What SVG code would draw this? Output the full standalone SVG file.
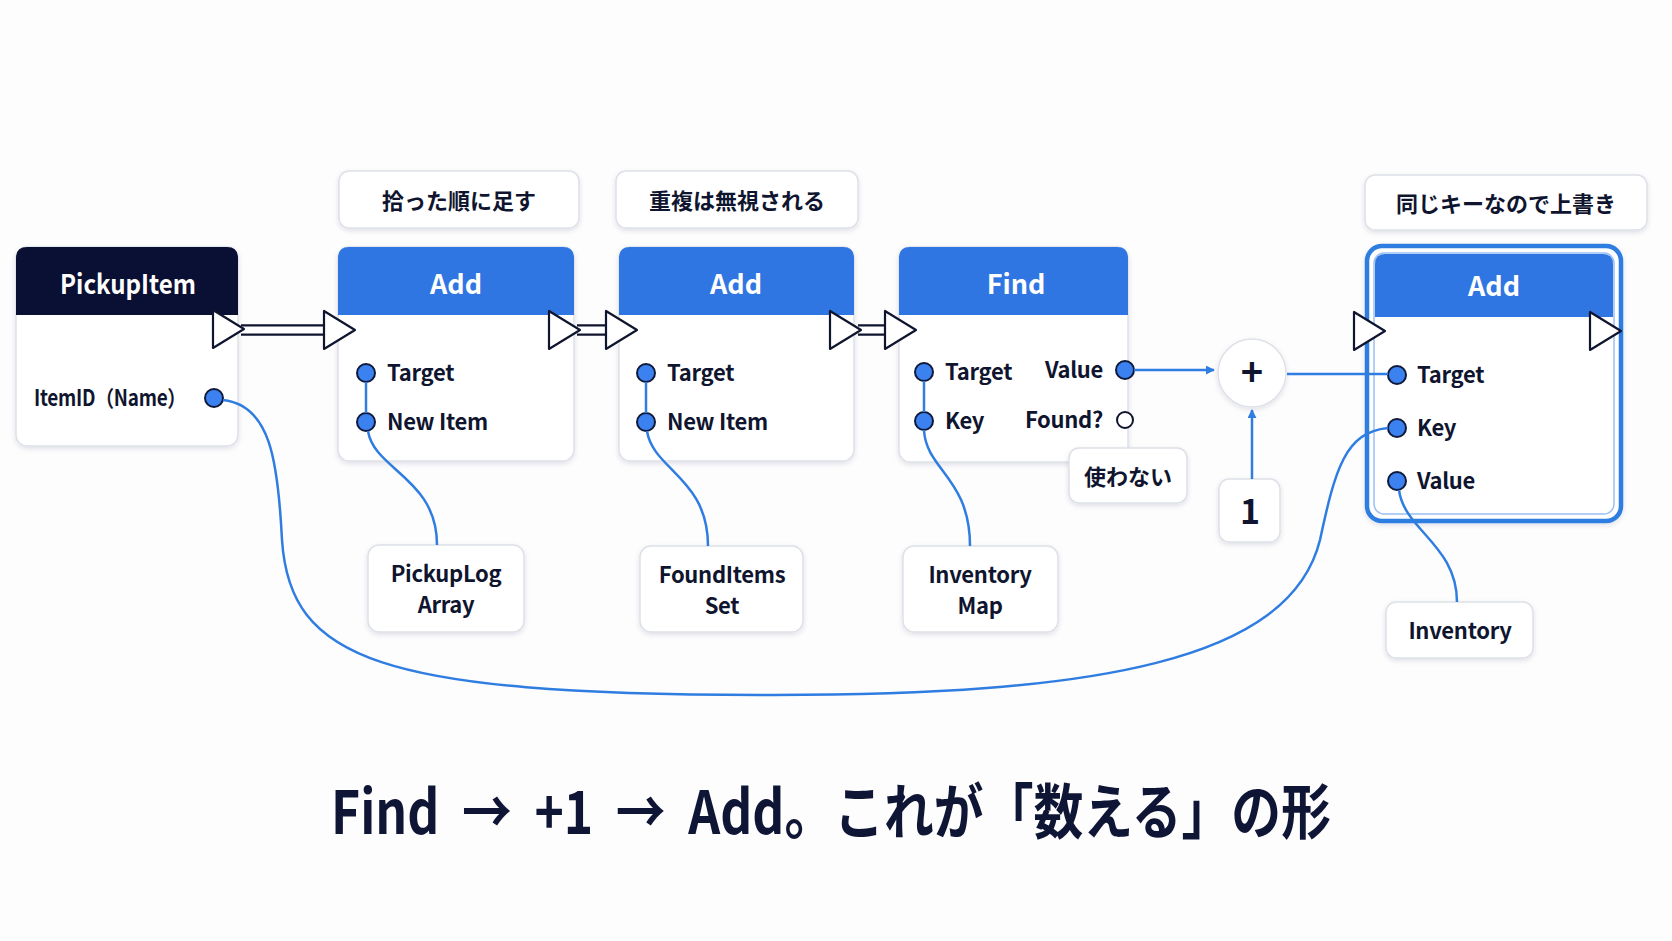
<svg xmlns="http://www.w3.org/2000/svg" width="1672" height="941" viewBox="0 0 1672 941">
<defs>
<filter id="sh" x="-10%" y="-10%" width="120%" height="130%">
<feDropShadow dx="0" dy="2" stdDeviation="2.5" flood-color="#1a2340" flood-opacity="0.12"/>
</filter>
<marker id="ah" viewBox="0 0 10 10" refX="9" refY="5" markerWidth="9" markerHeight="9" markerUnits="userSpaceOnUse" orient="auto">
<path d="M0 0 L10 5 L0 10 Z" fill="#2f7de1"/>
</marker>
<path id="tri" d="M0 -19 L0 19 L31 0 Z"/>
</defs>
<style>
text{font-family:"Noto Sans CJK JP","Noto Sans",sans-serif;fill:#10152f}
.title{font-size:27px;font-weight:700;fill:#fff;text-anchor:middle}
.lbl{font-size:22px;font-weight:700;letter-spacing:-0.3px}
.cmt{font-size:22px;font-weight:700;text-anchor:middle}
.big{font-size:60px;font-weight:700;fill:#0f1535}
.body{fill:#fff;stroke:#dde1e7;stroke-width:1.5}
.hdr{fill:#2f76e2}
.port{fill:#3b82f0;stroke:#0f1a3a;stroke-width:2}
.wire{fill:none;stroke:#2f7de1;stroke-width:2.5}
.tri{fill:#fff;stroke:#10152f;stroke-width:2.2;stroke-linejoin:round}
.box{fill:#fff;stroke:#dde1e7;stroke-width:1.5}
.exo{fill:none;stroke:#10152f;stroke-width:11.5}
.exi{fill:none;stroke:#fff;stroke-width:7}
</style>
<rect width="1672" height="941" fill="#fdfdfe"/>

<g id="comment1"><rect class="box" x="339" y="171" width="240" height="57" rx="10" filter="url(#sh)"/><text class="cmt" x="459" y="209">拾った順に足す</text></g>
<g id="comment2"><rect class="box" x="616" y="171" width="242" height="57" rx="10" filter="url(#sh)"/><text class="cmt" x="737" y="209">重複は無視される</text></g>
<g id="comment3"><rect class="box" x="1365" y="175" width="282" height="55" rx="10" filter="url(#sh)"/><text class="cmt" x="1506" y="212">同じキーなので上書き</text></g>

<g id="pickupitem">
<rect class="body" x="16" y="247" width="222" height="199" rx="11" filter="url(#sh)"/>
<path d="M16 315 V258 Q16 247 27 247 H227 Q238 247 238 258 V315 Z" fill="#0a1033"/>
<text class="title" x="128" y="294" textLength="136" lengthAdjust="spacingAndGlyphs">PickupItem</text>
<text class="lbl" x="34" y="406" font-size="21" textLength="152" lengthAdjust="spacingAndGlyphs">ItemID（Name）</text>
<circle class="port" cx="214" cy="398" r="9"/>
</g>

<g id="add1">
<rect class="body" x="338" y="247" width="236" height="214" rx="11" filter="url(#sh)"/>
<path class="hdr" d="M338 315 V258 Q338 247 349 247 H563 Q574 247 574 258 V315 Z"/>
<text class="title" x="456" y="294">Add</text>
<circle class="port" cx="366" cy="373" r="9"/><text class="lbl" x="387" y="381">Target</text>
<circle class="port" cx="366" cy="422" r="9"/><text class="lbl" x="387" y="430">New Item</text>
</g>

<g id="add2">
<rect class="body" x="619" y="247" width="235" height="214" rx="11" filter="url(#sh)"/>
<path class="hdr" d="M619 315 V258 Q619 247 630 247 H843 Q854 247 854 258 V315 Z"/>
<text class="title" x="736" y="294">Add</text>
<circle class="port" cx="646" cy="373" r="9"/><text class="lbl" x="667" y="381">Target</text>
<circle class="port" cx="646" cy="422" r="9"/><text class="lbl" x="667" y="430">New Item</text>
</g>

<g id="find">
<rect class="body" x="899" y="247" width="229" height="215" rx="11" filter="url(#sh)"/>
<path class="hdr" d="M899 315 V258 Q899 247 910 247 H1117 Q1128 247 1128 258 V315 Z"/>
<text class="title" x="1016" y="294">Find</text>
<circle class="port" cx="924" cy="372" r="9"/><text class="lbl" x="945" y="380">Target</text>
<circle class="port" cx="924" cy="421" r="9"/><text class="lbl" x="945" y="429">Key</text>
<text class="lbl" x="1103" y="378" text-anchor="end" font-size="21">Value</text>
<circle class="port" cx="1125" cy="370" r="9"/>
<text class="lbl" x="1103" y="428" text-anchor="end" font-size="21">Found?</text>
<circle cx="1125" cy="420" r="8" fill="#fff" stroke="#10152f" stroke-width="2"/>
</g>

<g id="unused"><rect class="box" x="1069" y="448" width="118" height="55" rx="10" filter="url(#sh)"/><text class="cmt" x="1128" y="485">使わない</text></g>

<g id="plus"><circle cx="1252" cy="373" r="34" fill="#fff" stroke="#dde1e7" stroke-width="1.5" filter="url(#sh)"/><text x="1252" y="386" font-size="38" font-weight="700" text-anchor="middle">+</text></g>

<g id="one"><rect class="box" x="1219" y="479" width="61" height="63" rx="10" filter="url(#sh)"/><text x="1250" y="524" font-size="34" font-weight="700" text-anchor="middle">1</text></g>

<g id="add3">
<rect x="1367" y="246" width="254" height="275" rx="15" fill="#fff" stroke="#2f7de1" stroke-width="4.5" filter="url(#sh)"/>
<rect x="1374" y="253" width="240" height="261" rx="10" fill="none" stroke="#9cc0f2" stroke-width="1.5"/>
<path class="hdr" d="M1375 317 V264 Q1375 254 1385 254 H1603 Q1613 254 1613 264 V317 Z"/>
<text class="title" x="1494" y="296">Add</text>
<circle class="port" cx="1397" cy="375" r="9"/><text class="lbl" x="1417" y="383">Target</text>
<circle class="port" cx="1397" cy="428" r="9"/><text class="lbl" x="1417" y="436">Key</text>
<circle class="port" cx="1397" cy="481" r="9"/><text class="lbl" x="1417" y="489">Value</text>
</g>

<g id="pickuplog"><rect class="box" x="368" y="545" width="156" height="87" rx="11" filter="url(#sh)"/><text class="lbl" x="446" y="582" text-anchor="middle">PickupLog</text><text class="lbl" x="446" y="613" text-anchor="middle" font-size="20">Array</text></g>
<g id="founditems"><rect class="box" x="640" y="546" width="163" height="86" rx="11" filter="url(#sh)"/><text class="lbl" x="722" y="583" text-anchor="middle">FoundItems</text><text class="lbl" x="722" y="614" text-anchor="middle" font-size="20">Set</text></g>
<g id="inventorymap"><rect class="box" x="903" y="546" width="155" height="86" rx="11" filter="url(#sh)"/><text class="lbl" x="980" y="583" text-anchor="middle">Inventory</text><text class="lbl" x="980" y="614" text-anchor="middle" font-size="20">Map</text></g>
<g id="inventory"><rect class="box" x="1386" y="602" width="147" height="56" rx="10" filter="url(#sh)"/><text class="lbl" x="1460" y="639" text-anchor="middle">Inventory</text></g>

<g id="connectors">
<path class="exo" d="M241 330 H330"/>
<path class="exi" d="M240 330 H331"/>
<path class="exo" d="M577 330 H611"/>
<path class="exi" d="M576 330 H612"/>
<path class="exo" d="M858 330 H890"/>
<path class="exi" d="M857 330 H891"/>
<path class="wire" d="M366 382 V413"/>
<path class="wire" d="M646 382 V413"/>
<path class="wire" d="M924 381 V412"/>
<path class="wire" d="M368 431 C374 470 437 478 437 545"/>
<path class="wire" d="M647 431 C653 470 708 478 708 546"/>
<path class="wire" d="M924 430 C926 470 970 478 970 546"/>
<path class="wire" d="M1399 490 C1404 530 1457 545 1457 602"/>
<path class="wire" d="M223 400 C270 405 278 460 282 540 C290 660 380 694 760 695 C1100 696 1290 660 1320 540 C1335 470 1345 432 1388 428"/>
<path class="wire" d="M1134 370 H1214" marker-end="url(#ah)"/>
<path class="wire" d="M1252 479 V410" marker-end="url(#ah)"/>
<path class="wire" d="M1287 374 H1388"/>
</g>

<g id="exec-pins">
<use href="#tri" class="tri" x="213" y="329"/>
<use href="#tri" class="tri" x="324" y="330"/>
<use href="#tri" class="tri" x="549" y="330"/>
<use href="#tri" class="tri" x="606" y="330"/>
<use href="#tri" class="tri" x="830" y="330"/>
<use href="#tri" class="tri" x="885" y="330"/>
<use href="#tri" class="tri" x="1354" y="331"/>
<use href="#tri" class="tri" x="1590" y="331"/>
</g>

<g id="caption">
<text class="big" x="331" y="834" textLength="1000" lengthAdjust="spacingAndGlyphs" xml:space="preserve">Find  →  +1  →  Add。これが「数える」の形</text>
</g>
</svg>
